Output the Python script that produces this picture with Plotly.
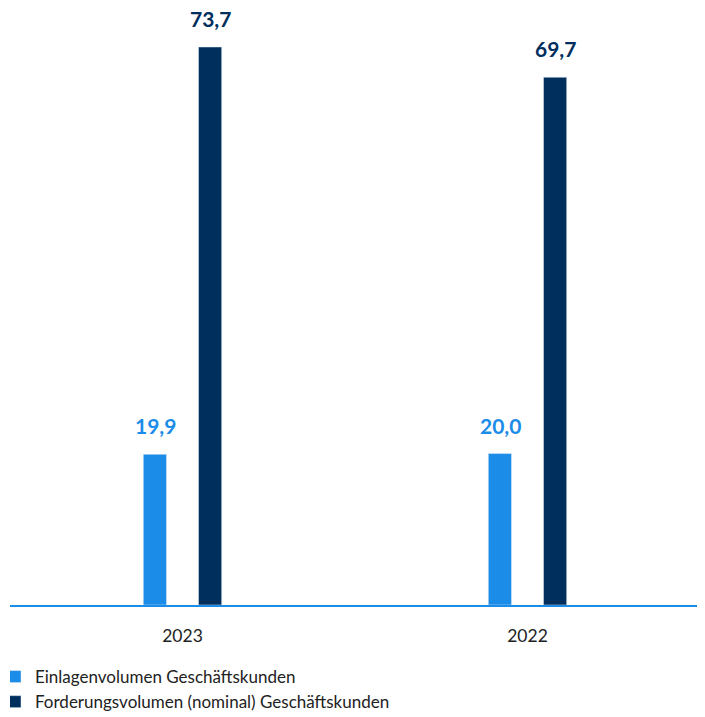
import plotly.graph_objects as go

categories = ["2023", "2022"]
einlagen = [19.9, 20.0]
forderung = [73.7, 69.7]
einlagen_labels = ["19,9", "20,0"]
forderung_labels = ["73,7", "69,7"]
series_names = ["Einlagenvolumen Geschäftskunden", "Forderungsvolumen (nominal) Geschäftskunden"]

light = "#1B8CE8"
dark = "#002E5D"
font_family = "Lato, 'Open Sans', sans-serif"

fig = go.Figure()
fig.add_trace(go.Bar(x=categories, y=einlagen, name=series_names[0], marker_color=light))
fig.add_trace(go.Bar(x=categories, y=forderung, name=series_names[1], marker_color=dark))

annotations = []
for i, (v, lab) in enumerate(zip(einlagen, einlagen_labels)):
    annotations.append(dict(x=i, y=v, text="<b>" + lab + "</b>", showarrow=False, xshift=-27.5,
                            yanchor="bottom", yshift=14,
                            font=dict(family=font_family, size=21, color=light)))
for i, (v, lab) in enumerate(zip(forderung, forderung_labels)):
    annotations.append(dict(x=i, y=v, text="<b>" + lab + "</b>", showarrow=False, xshift=27.5,
                            yanchor="bottom", yshift=14,
                            font=dict(family=font_family, size=21, color=dark)))

fig.update_layout(
    width=705, height=717,
    margin=dict(l=2, r=13, t=10, b=120, autoexpand=False),
    paper_bgcolor="white", plot_bgcolor="white",
    barmode="group", bargap=0.68, bargroupgap=0.58,
    font=dict(family=font_family, size=17, color="#222222"),
    xaxis=dict(type="category", range=[-0.5, 1.5], showline=True, linecolor=light, linewidth=2,
               ticks="", showgrid=False, tickfont=dict(size=17.5, color="#222222"),
               ticklabelstandoff=14),
    yaxis=dict(range=[0, 77.53], visible=False, showgrid=False, zeroline=False),
    legend=dict(orientation="v", x=0, xanchor="left", y=-0.092, yanchor="top", indentation=-15,
                font=dict(size=17, color="#222222")),
    annotations=annotations,
    showlegend=True,
)
fig.write_html("out.html")
